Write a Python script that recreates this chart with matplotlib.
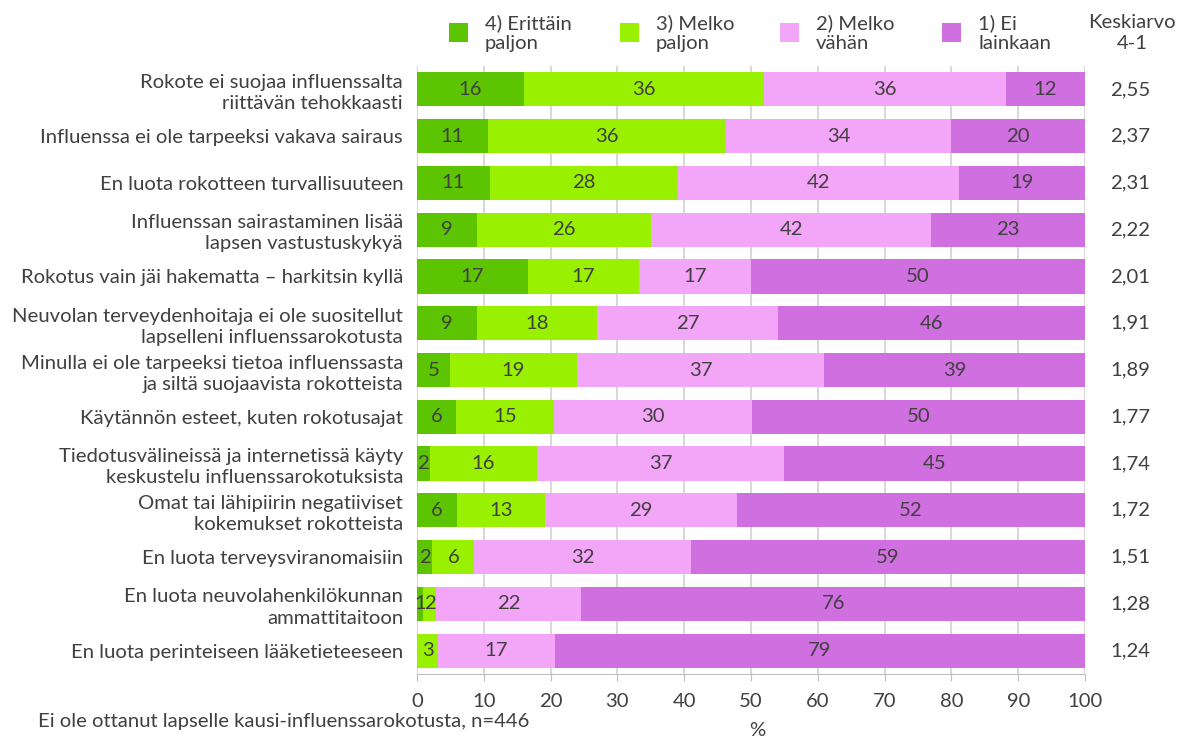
import matplotlib.pyplot as plt
from matplotlib.patches import Rectangle
from matplotlib.transforms import blended_transform_factory
import numpy as np

plt.rcParams['font.family'] = ['Lato', 'DejaVu Sans']

categories = [
    "Rokote ei suojaa influenssalta\nriittävän tehokkaasti",
    "Influenssa ei ole tarpeeksi vakava sairaus",
    "En luota rokotteen turvallisuuteen",
    "Influenssan sairastaminen lisää\nlapsen vastustuskykyä",
    "Rokotus vain jäi hakematta – harkitsin kyllä",
    "Neuvolan terveydenhoitaja ei ole suositellut\nlapselleni influenssarokotusta",
    "Minulla ei ole tarpeeksi tietoa influenssasta\nja siltä suojaavista rokotteista",
    "Käytännön esteet, kuten rokotusajat",
    "Tiedotusvälineissä ja internetissä käyty\nkeskustelu influenssarokotuksista",
    "Omat tai lähipiirin negatiiviset\nkokemukset rokotteista",
    "En luota terveysviranomaisiin",
    "En luota neuvolahenkilökunnan\nammattitaitoon",
    "En luota perinteiseen lääketieteeseen",
]
# prosentit (luettu kuvasta, pyöristys näkyy palkin tekstissä)
paljon_erittain = [16.0, 10.6, 10.9, 9.0, 16.6, 9.0, 4.9, 5.9, 1.9, 6.0, 2.3, 0.9, 0.0]
paljon_melko = [35.9, 35.6, 28.1, 26.1, 16.6, 17.9, 19.1, 14.6, 16.1, 13.1, 6.3, 2.0, 3.2]
vahan_melko = [36.2, 33.8, 42.1, 41.8, 16.8, 27.2, 37.0, 29.6, 36.9, 28.8, 32.4, 21.6, 17.4]
ei_lainkaan = [11.9, 20.0, 18.9, 23.1, 50.0, 45.9, 39.0, 49.9, 45.1, 52.1, 59.0, 75.6, 79.4]
keskiarvo = ["2,55", "2,37", "2,31", "2,22", "2,01", "1,91", "1,89",
             "1,77", "1,74", "1,72", "1,51", "1,28", "1,24"]
series_labels = ["4) Erittäin\npaljon", "3) Melko\npaljon",
                 "2) Melko\nvähän", "1) Ei\nlainkaan"]
colors = ['#5cc400', '#99f000', '#f3a5f7', '#d06fdf']
text_col = '#404040'
fs = 14.6

W, H = 1183, 738
fig = plt.figure(figsize=(W / 100, H / 100), dpi=100)
ax = fig.add_axes([417 / W, 1 - 674 / H, 668 / W, 608 / H])

series = np.array([paljon_erittain, paljon_melko, vahan_melko, ei_lainkaan])
ypos = np.arange(len(categories))
left = np.zeros(len(categories))
for vals, col in zip(series, colors):
    ax.barh(ypos, vals, left=left, height=0.73, color=col, zorder=2)
    for y, v, l in zip(ypos, vals, left):
        if v > 0:
            ax.text(l + v / 2, y, "%.0f" % v, ha='center', va='center',
                    fontsize=fs, color=text_col, zorder=3)
    left += vals

ax.set_xlim(0, 100)
ax.set_ylim(len(categories) - 0.5, -0.5)
ax.set_yticks(ypos)
ax.set_yticklabels(categories, fontsize=fs, color=text_col, ha='right',
                   linespacing=1.3)
ax.tick_params(axis='y', length=0, pad=10)
ax.set_xticks(np.arange(0, 101, 10))
ax.tick_params(axis='x', colors='#bfbfbf', labelcolor=text_col,
               labelsize=fs, length=5, pad=9)
ax.grid(True, axis='x', color='#d9d9d9', lw=1.5, zorder=0)
for side in ['top', 'right', 'left']:
    ax.spines[side].set_visible(False)
ax.spines['bottom'].set_color('#bfbfbf')

# keskiarvot oikealla
trans = blended_transform_factory(fig.transFigure, ax.transData)
for y, k in zip(ypos, keskiarvo):
    ax.text(1130 / W, y, k, transform=trans, ha='center', va='center',
            fontsize=fs, color=text_col)
fig.text(1132 / W, 1 - 33 / H, "Keskiarvo\n4-1", ha='center', va='center',
         fontsize=fs, color=text_col, linespacing=1.25)

# selite
sq_left = [449, 620, 780, 942]
for x0, lab, col in zip(sq_left, series_labels, colors):
    fig.patches.append(Rectangle((x0 / W, 1 - 42 / H), 19 / W, 19 / H,
                                 transform=fig.transFigure, facecolor=col))
    fig.text((x0 + 36) / W, 1 - 33 / H, lab, ha='left', va='center',
             fontsize=fs, color=text_col, linespacing=1.25)

fig.text(38 / W, 1 - 722 / H,
         "Ei ole ottanut lapselle kausi-influenssarokotusta, n=446",
         ha='left', va='center', fontsize=fs, color=text_col)
fig.text(757 / W, 1 - 731 / H, "%", ha='center', va='center',
         fontsize=fs, color=text_col)

fig.savefig("out.png", dpi=100)
